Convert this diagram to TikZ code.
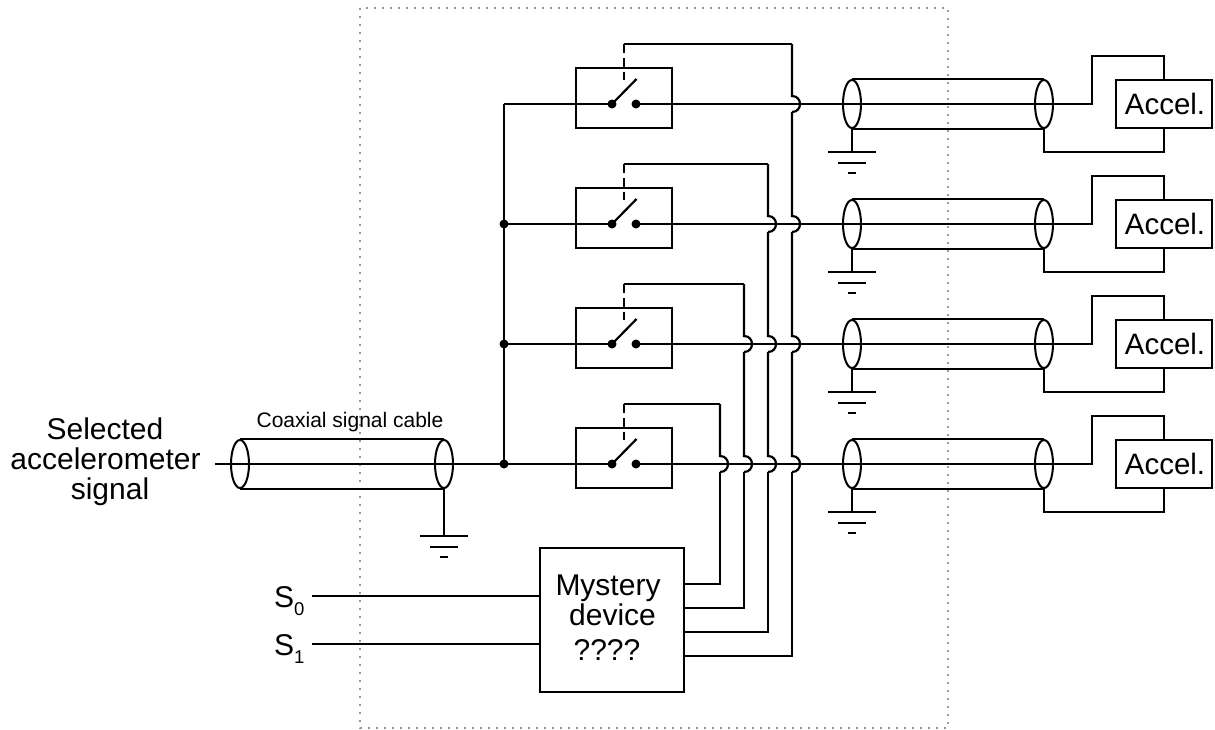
\documentclass[tikz,border=0pt]{standalone}
\usepackage{fontspec}
\setmainfont{Liberation Sans}
\usetikzlibrary{shapes.geometric}
\tikzset{
  x=1pt,y=-1pt,
  wire/.style={draw=black,line width=2.2pt,line join=miter},
  subbar/.style={draw=black,line width=1.7pt},
  dotbox/.style={draw=black!40,line width=2pt,dash pattern=on 2pt off 6pt},
  dot/.style={circle,fill=black,inner sep=0pt,minimum size=9pt},
  shell/.style={ellipse,draw=black,line width=2pt,inner sep=0pt,minimum width=18pt,minimum height=48pt},
  swbox/.style={rectangle,draw=black,line width=2.2pt,minimum width=96pt,minimum height=60pt},
  accbox/.style={rectangle,draw=black,line width=2.2pt,fill=white,minimum width=96pt,minimum height=48pt,inner sep=0pt,font=\fontsize{29.5}{30}\selectfont},
  mystbox/.style={rectangle,draw=black,line width=2.2pt,minimum width=144pt,minimum height=144pt},
  big/.style={anchor=base,inner sep=0pt,font=\fontsize{30}{30}\selectfont},
  small/.style={anchor=base,inner sep=0pt,font=\fontsize{21}{24}\selectfont},
  subs/.style={anchor=base west,inner sep=0pt,font=\fontsize{18.5}{20}\selectfont},
}
\newcommand{\groundsym}[2]{% name of shell, y of the top bar
  \coordinate (#1g) at (#1.south |- 0,#2);
  \coordinate (#1gl) at ([xshift=-24pt]#1g);
  \coordinate (#1gr) at ([xshift=24pt]#1g);
  \coordinate (#1ml) at ([xshift=-14pt,yshift=-11pt]#1g);
  \coordinate (#1mr) at ([xshift=14pt,yshift=-11pt]#1g);
  \coordinate (#1sl) at ([xshift=-4pt,yshift=-21pt]#1g);
  \coordinate (#1sr) at ([xshift=4pt,yshift=-21pt]#1g);
  \draw[wire] (#1.south) -- (#1g);
  \draw[wire] (#1gl) -- (#1gr);
  \draw[subbar] (#1ml) -- (#1mr);
  \draw[subbar] (#1sl) -- (#1sr);
}
\begin{document}
\begin{tikzpicture}
\useasboundingbox (0,0) rectangle (1215,729);
\fill[white] (0,0) rectangle (1215,729);
\draw[dotbox] (360,8) rectangle (948,728);

% bus
\coordinate (bustop) at (504,104);
\node[dot] (bus2) at (504,224) {};
\node[dot] (bus3) at (504,344) {};
\node[dot] (bus4) at (504,464) {};
\draw[wire] (bustop) -- (bus4.center);

% rows
\foreach \r in {1,2,3,4}{
  \pgfmathtruncatemacro{\ry}{120*\r-16}
  \pgfmathtruncatemacro{\boxy}{\ry-6}
  \node[swbox] (sw\r) at (624,\boxy) {};
  \node[dot] (ca\r) at (612,\ry) {};
  \node[dot] (cb\r) at (636,\ry) {};
  \coordinate (blade\r) at (636.5,\ry-25);
  \coordinate (ctop\r) at (624,\ry-60);
  \coordinate (cend\r) at (624,\ry-24);
  \draw[wire] (ca\r.center) -- (blade\r);
  \draw[wire,dash pattern=on 8.5pt off 5.5pt] (ctop\r) -- (cend\r);
  \node[shell] (ra\r) at (852,\ry) {};
  \node[shell] (rb\r) at (1044,\ry) {};
  \draw[wire] (ra\r.north) -- (rb\r.north);
  \draw[wire] (ra\r.south) -- (rb\r.south);
  \groundsym{ra\r}{\ry+48}
  \node[accbox] (acc\r) at (1164,\ry) {\hspace{2pt}Accel.};
  \coordinate (kn\r) at (1092,\ry);
  \coordinate (kt\r) at (1092,\ry-48);
  \coordinate (ktr\r) at (1164,\ry-48);
  \coordinate (kb\r) at (1044,\ry+48);
  \coordinate (kbr\r) at (1164,\ry+48);
  \draw[wire] (cb\r.center) -- (kn\r) -- (kt\r) -- (ktr\r) -- (acc\r.north);
  \draw[wire] (rb\r.south) -- (kb\r) -- (kbr\r) -- (acc\r.south);
}
\draw[wire] (bustop) -- (ca1.center);
\draw[wire] (bus2.center) -- (ca2.center);
\draw[wire] (bus3.center) -- (ca3.center);

% input cable
\coordinate (inL) at (215,464);
\node[shell] (la) at (240,464) {};
\node[shell] (lb) at (444,464) {};
\draw[wire] (la.north) -- (lb.north);
\draw[wire] (la.south) -- (lb.south);
\draw[wire] (inL) -- (ca4.center);
\groundsym{lb}{536}
\node[small] (coaxlabel) at (350,427.5) {Coaxial signal cable};

% mystery device
\node[mystbox] (myst) at (612,620) {};
\node[big] (m1) at (608,595) {Mystery};
\node[big] (m2) at (612.5,625) {device};
\node[big] (m3) at (607,660) {????};

% controls
\foreach \r/\x/\oy in {1/792/656,2/768/632,3/744/608,4/720/584}{
  \coordinate (o\r) at (myst.east |- 0,\oy);
  \coordinate (b\r) at (\x,\oy);
  \coordinate (e\r) at (\x,\r*120-76);
  \draw[wire] (o\r) -- (b\r) -- (\x,472);
  \foreach \k in {\r,...,4}{
    \pgfmathtruncatemacro{\ky}{120*\k-16}
    \pgfmathtruncatemacro{\nexty}{\k==\r ? \ky-60 : \ky-112}
    \draw[wire] (\x,\ky+8) .. controls (\x+10.67,\ky+8) and (\x+10.67,\ky-8) .. (\x,\ky-8) -- (\x,\nexty);
  }
  \draw[wire] (e\r) -- (ctop\r);
}

% inputs
\node[big,anchor=base west] (s0) at (274,607) {S};
\node[subs] (s0i) at (294,615) {0};
\node[big,anchor=base west] (s1) at (274,655) {S};
\node[subs] (s1i) at (294,663) {1};
\coordinate (in0) at (312,596);
\coordinate (in1) at (312,644);
\draw[wire] (in0) -- (myst.west |- in0);
\draw[wire] (in1) -- (myst.west |- in1);

% labels
\node[big] (l1) at (105,439.5) {Selected};
\node[big] (l2) at (105.5,469.5) {accelerometer};
\node[big] (l3) at (110,499.5) {signal};
\end{tikzpicture}
\end{document}
